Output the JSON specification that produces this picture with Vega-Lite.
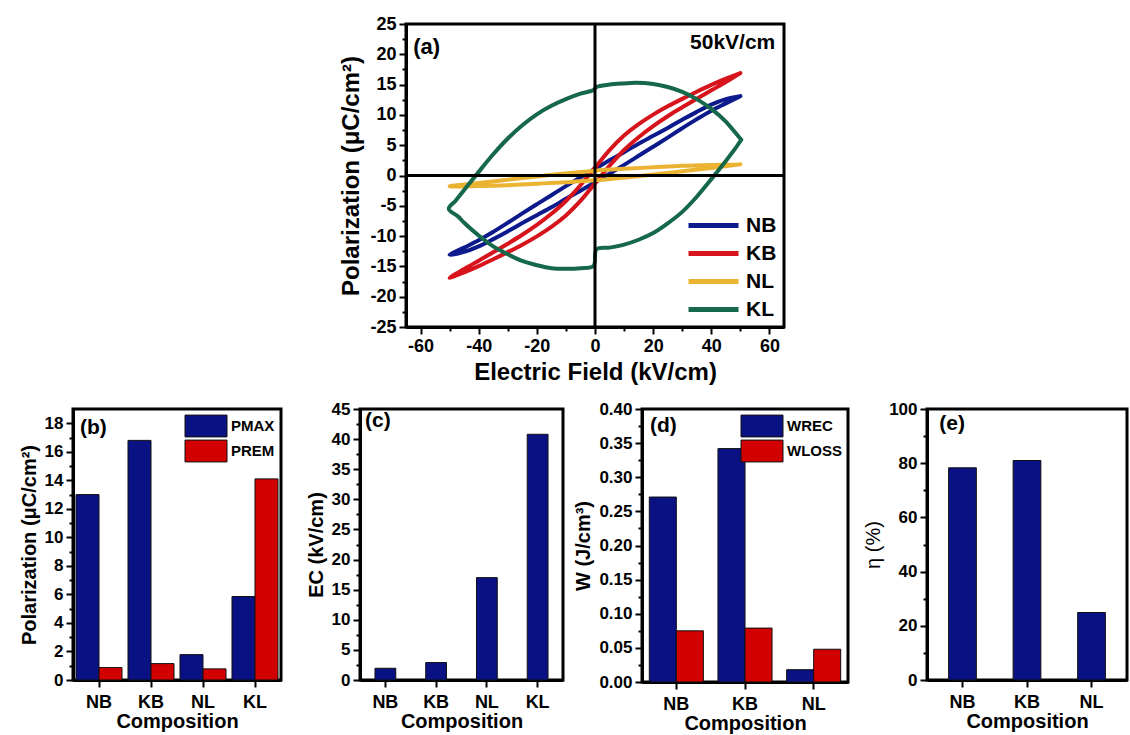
{
  "$schema": "https://vega.github.io/schema/vega-lite/v6.json",
  "background": "white",
  "padding": {"left": 17, "top": 13, "right": 0, "bottom": 0},
  "config": {
    "font": "Liberation Sans",
    "locale": {"number": {"decimal": ".", "thousands": ",", "grouping": [3], "currency": ["$", ""], "minus": "-"}},
    "view": {"stroke": "black", "strokeWidth": 3},
    "axis": {
      "grid": false,
      "labelOverlap": false,
      "tickCount": 200,
      "domainColor": "black",
      "domainWidth": 3,
      "tickColor": "black",
      "tickWidth": 2,
      "labelFont": "Liberation Sans",
      "labelFontWeight": "bold",
      "labelColor": "black",
      "titleFont": "Liberation Sans",
      "titleFontWeight": "bold",
      "titleColor": "black"
    },
    "legend": {
      "labelFont": "Liberation Sans",
      "labelFontWeight": "bold",
      "labelColor": "black"
    }
  },
  "datasets": {
    "loops": [
      {"s": "NB", "i": 0, "E": 50, "P": 13.1}, {"s": "NB", "i": 1, "E": 45, "P": 12.6}, {"s": "NB", "i": 2, "E": 40, "P": 11.7},
      {"s": "NB", "i": 3, "E": 35, "P": 10.5}, {"s": "NB", "i": 4, "E": 30, "P": 9.2}, {"s": "NB", "i": 5, "E": 25, "P": 7.85},
      {"s": "NB", "i": 6, "E": 20, "P": 6.55}, {"s": "NB", "i": 7, "E": 15, "P": 5.25}, {"s": "NB", "i": 8, "E": 10, "P": 3.85},
      {"s": "NB", "i": 9, "E": 5, "P": 2.5}, {"s": "NB", "i": 10, "E": 0, "P": 1.1}, {"s": "NB", "i": 11, "E": -5, "P": -0.3},
      {"s": "NB", "i": 12, "E": -10, "P": -1.75}, {"s": "NB", "i": 13, "E": -15, "P": -3.25}, {"s": "NB", "i": 14, "E": -20, "P": -4.75},
      {"s": "NB", "i": 15, "E": -25, "P": -6.25}, {"s": "NB", "i": 16, "E": -30, "P": -7.8}, {"s": "NB", "i": 17, "E": -35, "P": -9.3},
      {"s": "NB", "i": 18, "E": -40, "P": -10.7}, {"s": "NB", "i": 19, "E": -45, "P": -11.9}, {"s": "NB", "i": 20, "E": -50, "P": -13.1},
      {"s": "NB", "i": 21, "E": -45, "P": -12.6}, {"s": "NB", "i": 22, "E": -40, "P": -11.7}, {"s": "NB", "i": 23, "E": -35, "P": -10.5},
      {"s": "NB", "i": 24, "E": -30, "P": -9.2}, {"s": "NB", "i": 25, "E": -25, "P": -7.85}, {"s": "NB", "i": 26, "E": -20, "P": -6.55},
      {"s": "NB", "i": 27, "E": -15, "P": -5.25}, {"s": "NB", "i": 28, "E": -10, "P": -3.85}, {"s": "NB", "i": 29, "E": -5, "P": -2.5},
      {"s": "NB", "i": 30, "E": 0, "P": -1.1}, {"s": "NB", "i": 31, "E": 5, "P": 0.3}, {"s": "NB", "i": 32, "E": 10, "P": 1.75},
      {"s": "NB", "i": 33, "E": 15, "P": 3.25}, {"s": "NB", "i": 34, "E": 20, "P": 4.75}, {"s": "NB", "i": 35, "E": 25, "P": 6.25},
      {"s": "NB", "i": 36, "E": 30, "P": 7.8}, {"s": "NB", "i": 37, "E": 35, "P": 9.3}, {"s": "NB", "i": 38, "E": 40, "P": 10.7},
      {"s": "NB", "i": 39, "E": 45, "P": 11.9}, {"s": "NB", "i": 40, "E": 50, "P": 13.1},

      {"s": "KB", "i": 0, "E": 50, "P": 16.9}, {"s": "KB", "i": 1, "E": 45, "P": 15.98}, {"s": "KB", "i": 2, "E": 40, "P": 14.95},
      {"s": "KB", "i": 3, "E": 35, "P": 13.83}, {"s": "KB", "i": 4, "E": 30, "P": 12.65}, {"s": "KB", "i": 5, "E": 25, "P": 11.42},
      {"s": "KB", "i": 6, "E": 20, "P": 10.05}, {"s": "KB", "i": 7, "E": 15, "P": 8.48}, {"s": "KB", "i": 8, "E": 10, "P": 6.6},
      {"s": "KB", "i": 9, "E": 5, "P": 4.2}, {"s": "KB", "i": 10, "E": 0, "P": 1.3}, {"s": "KB", "i": 11, "E": -5, "P": -1.6},
      {"s": "KB", "i": 12, "E": -10, "P": -4.2}, {"s": "KB", "i": 13, "E": -15, "P": -6.32}, {"s": "KB", "i": 14, "E": -20, "P": -8.15},
      {"s": "KB", "i": 15, "E": -25, "P": -9.78}, {"s": "KB", "i": 16, "E": -30, "P": -11.25}, {"s": "KB", "i": 17, "E": -35, "P": -12.67},
      {"s": "KB", "i": 18, "E": -40, "P": -14.05}, {"s": "KB", "i": 19, "E": -45, "P": -15.42}, {"s": "KB", "i": 20, "E": -50, "P": -16.9},
      {"s": "KB", "i": 21, "E": -45, "P": -15.98}, {"s": "KB", "i": 22, "E": -40, "P": -14.95}, {"s": "KB", "i": 23, "E": -35, "P": -13.83},
      {"s": "KB", "i": 24, "E": -30, "P": -12.65}, {"s": "KB", "i": 25, "E": -25, "P": -11.42}, {"s": "KB", "i": 26, "E": -20, "P": -10.05},
      {"s": "KB", "i": 27, "E": -15, "P": -8.48}, {"s": "KB", "i": 28, "E": -10, "P": -6.6}, {"s": "KB", "i": 29, "E": -5, "P": -4.2},
      {"s": "KB", "i": 30, "E": 0, "P": -1.3}, {"s": "KB", "i": 31, "E": 5, "P": 1.6}, {"s": "KB", "i": 32, "E": 10, "P": 4.2},
      {"s": "KB", "i": 33, "E": 15, "P": 6.32}, {"s": "KB", "i": 34, "E": 20, "P": 8.15}, {"s": "KB", "i": 35, "E": 25, "P": 9.78},
      {"s": "KB", "i": 36, "E": 30, "P": 11.25}, {"s": "KB", "i": 37, "E": 35, "P": 12.67}, {"s": "KB", "i": 38, "E": 40, "P": 14.05},
      {"s": "KB", "i": 39, "E": 45, "P": 15.42}, {"s": "KB", "i": 40, "E": 50, "P": 16.9},

      {"s": "NL", "i": 0, "E": 50, "P": 1.85}, {"s": "NL", "i": 1, "E": 40, "P": 1.75}, {"s": "NL", "i": 2, "E": 30, "P": 1.6},
      {"s": "NL", "i": 3, "E": 20, "P": 1.35}, {"s": "NL", "i": 4, "E": 10, "P": 1.1}, {"s": "NL", "i": 5, "E": 0, "P": 0.8},
      {"s": "NL", "i": 6, "E": -10, "P": 0.35}, {"s": "NL", "i": 7, "E": -17, "P": 0}, {"s": "NL", "i": 8, "E": -20, "P": -0.15},
      {"s": "NL", "i": 9, "E": -30, "P": -0.7}, {"s": "NL", "i": 10, "E": -40, "P": -1.25}, {"s": "NL", "i": 11, "E": -50, "P": -1.8},
      {"s": "NL", "i": 12, "E": -40, "P": -1.75}, {"s": "NL", "i": 13, "E": -30, "P": -1.6}, {"s": "NL", "i": 14, "E": -20, "P": -1.35},
      {"s": "NL", "i": 15, "E": -10, "P": -1.1}, {"s": "NL", "i": 16, "E": 0, "P": -0.8}, {"s": "NL", "i": 17, "E": 10, "P": -0.35},
      {"s": "NL", "i": 18, "E": 17, "P": 0}, {"s": "NL", "i": 19, "E": 20, "P": 0.15}, {"s": "NL", "i": 20, "E": 30, "P": 0.7},
      {"s": "NL", "i": 21, "E": 40, "P": 1.25}, {"s": "NL", "i": 22, "E": 50, "P": 1.85},

      {"s": "KL", "i": 0, "E": 50.3, "P": 5.9}, {"s": "KL", "i": 1, "E": 47, "P": 7.8}, {"s": "KL", "i": 2, "E": 45, "P": 8.9},
      {"s": "KL", "i": 3, "E": 40, "P": 11.0}, {"s": "KL", "i": 4, "E": 35, "P": 12.6}, {"s": "KL", "i": 5, "E": 30, "P": 13.8},
      {"s": "KL", "i": 6, "E": 25, "P": 14.6}, {"s": "KL", "i": 7, "E": 20, "P": 15.1}, {"s": "KL", "i": 8, "E": 14, "P": 15.3},
      {"s": "KL", "i": 9, "E": 10, "P": 15.2}, {"s": "KL", "i": 10, "E": 5, "P": 15.0}, {"s": "KL", "i": 11, "E": 0.5, "P": 14.6},
      {"s": "KL", "i": 12, "E": -0.5, "P": 14.1}, {"s": "KL", "i": 13, "E": -5, "P": 13.5}, {"s": "KL", "i": 14, "E": -10, "P": 12.6},
      {"s": "KL", "i": 15, "E": -15, "P": 11.5}, {"s": "KL", "i": 16, "E": -20, "P": 10.1}, {"s": "KL", "i": 17, "E": -25, "P": 8.3},
      {"s": "KL", "i": 18, "E": -30, "P": 6.1}, {"s": "KL", "i": 19, "E": -35, "P": 3.5}, {"s": "KL", "i": 20, "E": -40, "P": 0.6},
      {"s": "KL", "i": 21, "E": -45, "P": -2.4}, {"s": "KL", "i": 22, "E": -48, "P": -4.2}, {"s": "KL", "i": 23, "E": -50.3, "P": -5.5},
      {"s": "KL", "i": 24, "E": -47, "P": -6.8}, {"s": "KL", "i": 25, "E": -45, "P": -7.8}, {"s": "KL", "i": 26, "E": -40, "P": -9.9},
      {"s": "KL", "i": 27, "E": -35, "P": -11.7}, {"s": "KL", "i": 28, "E": -30, "P": -13.0}, {"s": "KL", "i": 29, "E": -25, "P": -14.1},
      {"s": "KL", "i": 30, "E": -20, "P": -14.8}, {"s": "KL", "i": 31, "E": -15, "P": -15.3}, {"s": "KL", "i": 32, "E": -10, "P": -15.4},
      {"s": "KL", "i": 33, "E": -5, "P": -15.3}, {"s": "KL", "i": 34, "E": -0.5, "P": -14.9}, {"s": "KL", "i": 35, "E": 0.5, "P": -12.2},
      {"s": "KL", "i": 36, "E": 5, "P": -11.9}, {"s": "KL", "i": 37, "E": 10, "P": -11.4}, {"s": "KL", "i": 38, "E": 15, "P": -10.6},
      {"s": "KL", "i": 39, "E": 20, "P": -9.5}, {"s": "KL", "i": 40, "E": 25, "P": -7.9}, {"s": "KL", "i": 41, "E": 30, "P": -6.0},
      {"s": "KL", "i": 42, "E": 35, "P": -3.5}, {"s": "KL", "i": 43, "E": 40, "P": -0.6}, {"s": "KL", "i": 44, "E": 45, "P": 2.4},
      {"s": "KL", "i": 45, "E": 48, "P": 4.3}, {"s": "KL", "i": 46, "E": 50.3, "P": 5.9}
    ],
    "pol": [
      {"c": "NB", "k": "PMAX", "v": 13.0}, {"c": "NB", "k": "PREM", "v": 0.87},
      {"c": "KB", "k": "PMAX", "v": 16.8}, {"c": "KB", "k": "PREM", "v": 1.15},
      {"c": "NL", "k": "PMAX", "v": 1.78}, {"c": "NL", "k": "PREM", "v": 0.78},
      {"c": "KL", "k": "PMAX", "v": 5.85}, {"c": "KL", "k": "PREM", "v": 14.1}
    ],
    "ec": [
      {"c": "NB", "v": 1.95}, {"c": "KB", "v": 2.9}, {"c": "NL", "v": 17.0}, {"c": "KL", "v": 40.8}
    ],
    "energy": [
      {"c": "NB", "k": "WREC", "v": 0.271}, {"c": "NB", "k": "WLOSS", "v": 0.075},
      {"c": "KB", "k": "WREC", "v": 0.342}, {"c": "KB", "k": "WLOSS", "v": 0.079},
      {"c": "NL", "k": "WREC", "v": 0.018}, {"c": "NL", "k": "WLOSS", "v": 0.048}
    ],
    "eff": [
      {"c": "NB", "v": 78.3}, {"c": "KB", "v": 81.0}, {"c": "NL", "v": 24.9}
    ]
  },
  "spacing": 12,
  "resolve": {"scale": {"color": "independent", "xOffset": "independent"}, "legend": {"color": "independent"}},
  "vconcat": [
    {
      "bounds": "flush",
      "spacing": 33,
      "resolve": {"scale": {"color": "independent", "xOffset": "independent"}, "legend": {"color": "independent"}},
      "hconcat": [
        {
          "width": 300,
          "height": 10,
          "view": {"stroke": null},
          "data": {"values": [{}]},
          "mark": {"type": "point", "opacity": 0},
          "encoding": {}
        },
        {
          "width": 378,
          "height": 303,
          "layer": [
            {
              "data": {"name": "loops"},
              "mark": {"type": "line", "strokeWidth": 4, "interpolate": "catmull-rom", "strokeCap": "round", "strokeJoin": "round"},
              "encoding": {
                "x": {
                  "field": "E", "type": "quantitative",
                  "scale": {"domain": [-65, 65], "nice": false, "zero": false},
                  "axis": {
                    "title": "Electric Field (kV/cm)",
                    "values": [-60, -50, -40, -30, -20, -10, 0, 10, 20, 30, 40, 50, 60],
                    "tickCount": 200,
                    "labelExpr": "datum.value % 20 === 0 ? '' + datum.value : ''",
                    "labelOverlap": false,
                    "tickSize": {"condition": {"test": "datum.value % 20 === 0", "value": 7}, "value": 4},
                    "labelFontSize": 18,
                    "labelPadding": 3,
                    "titleFontSize": 24,
                    "titlePadding": 5
                  }
                },
                "y": {
                  "field": "P", "type": "quantitative",
                  "scale": {"domain": [-25, 25], "nice": false, "zero": false},
                  "axis": {
                    "title": "Polarization (μC/cm²)",
                    "values": [-25, -22.5, -20, -17.5, -15, -12.5, -10, -7.5, -5, -2.5, 0, 2.5, 5, 7.5, 10, 12.5, 15, 17.5, 20, 22.5, 25],
                    "tickCount": 200,
                    "labelExpr": "datum.value % 5 === 0 ? '' + datum.value : ''",
                    "labelOverlap": false,
                    "tickSize": {"condition": {"test": "datum.value % 5 === 0", "value": 7}, "value": 4},
                    "labelFontSize": 18,
                    "labelPadding": 3,
                    "titleFontSize": 24,
                    "titlePadding": 6
                  }
                },
                "color": {
                  "field": "s", "type": "nominal",
                  "scale": {"domain": ["NB", "KB", "NL", "KL"], "range": ["#0c1a8c", "#d7141c", "#eab331", "#16684a"]},
                  "legend": {
                    "title": null,
                    "orient": "bottom-right",
                    "symbolType": "M-2.5,0H2.5",
                    "symbolStrokeWidth": 5,
                    "symbolSize": 400,
                    "labelFontSize": 21,
                    "labelOffset": 20,
                    "rowPadding": 5,
                    "offset": 7
                  }
                },
                "order": {"field": "i", "type": "quantitative"}
              }
            },
            {
              "data": {"values": [{}]},
              "mark": {"type": "rule", "strokeWidth": 3, "color": "black"},
              "encoding": {"x": {"datum": 0}}
            },
            {
              "data": {"values": [{}]},
              "mark": {"type": "rule", "strokeWidth": 3, "color": "black"},
              "encoding": {"y": {"datum": 0}}
            },
            {
              "data": {"values": [{"t": "(a)"}]},
              "mark": {"type": "text", "align": "left", "baseline": "middle", "fontSize": 22, "fontWeight": "bold", "color": "black"},
              "encoding": {"x": {"datum": -62.5}, "y": {"datum": 21.2}, "text": {"field": "t"}}
            },
            {
              "data": {"values": [{"t": "50kV/cm"}]},
              "mark": {"type": "text", "align": "right", "baseline": "middle", "fontSize": 21, "fontWeight": "bold", "color": "black"},
              "encoding": {"x": {"datum": 62}, "y": {"datum": 21.8}, "text": {"field": "t"}}
            }
          ]
        }
      ]
    },
    {
      "bounds": "flush",
      "spacing": 79,
      "resolve": {"scale": {"color": "independent", "xOffset": "independent"}, "legend": {"color": "independent"}},
      "hconcat": [
        {
          "width": 208,
          "height": 271,
          "layer": [
            {
              "data": {"name": "pol"},
              "mark": {"type": "bar", "stroke": "#111111", "strokeWidth": 1},
              "encoding": {
                "x": {
                  "field": "c", "type": "nominal", "sort": ["NB", "KB", "NL", "KL"],
                  "scale": {"paddingInner": 0, "paddingOuter": 0},
                  "axis": {"title": "Composition", "labelAngle": 0, "labelFontSize": 18, "titleFontSize": 20, "tickSize": 7, "labelPadding": 6, "titlePadding": 0}
                },
                "xOffset": {"field": "k", "type": "nominal", "sort": ["PMAX", "PREM"], "scale": {"paddingInner": 0, "paddingOuter": 0.13}},
                "y": {
                  "field": "v", "type": "quantitative",
                  "scale": {"domain": [0, 19], "nice": false},
                  "axis": {
                    "title": "Polarization (μC/cm²)",
                    "values": [0, 1, 2, 3, 4, 5, 6, 7, 8, 9, 10, 11, 12, 13, 14, 15, 16, 17, 18],
                    "tickCount": 200,
                    "labelExpr": "datum.value % 2 === 0 ? '' + datum.value : ''",
                    "labelOverlap": false,
                    "tickSize": {"condition": {"test": "datum.value % 2 === 0", "value": 7}, "value": 4},
                    "labelFontSize": 17, "titleFontSize": 20, "labelPadding": 3, "titlePadding": 5
                  }
                },
                "color": {
                  "field": "k", "type": "nominal",
                  "scale": {"domain": ["PMAX", "PREM"], "range": ["#0a1283", "#d20000"]},
                  "legend": {
                    "title": null, "orient": "top-right", "offset": 6,
                    "symbolType": "M-2,-1.04H2V1.04H-2Z", "symbolSize": 441,
                    "symbolStrokeColor": "#111111", "symbolStrokeWidth": 1, "symbolOpacity": 1,
                    "labelFontSize": 15, "labelOffset": 14, "rowPadding": -1
                  }
                }
              }
            },
            {
              "data": {"values": [{"t": "(b)"}]},
              "mark": {"type": "text", "align": "left", "baseline": "middle", "fontSize": 21, "fontWeight": "bold", "color": "black", "dx": 7},
              "encoding": {"x": {"datum": "NB", "bandPosition": 0}, "y": {"datum": 17.7}, "text": {"field": "t"}}
            }
          ]
        },
        {
          "width": 203,
          "height": 271,
          "layer": [
            {
              "data": {"name": "ec"},
              "mark": {"type": "bar", "stroke": "#111111", "strokeWidth": 1, "color": "#0a1283", "width": {"band": 0.41}},
              "encoding": {
                "x": {
                  "field": "c", "type": "nominal", "sort": ["NB", "KB", "NL", "KL"],
                  "scale": {"paddingInner": 0, "paddingOuter": 0},
                  "axis": {"title": "Composition", "labelAngle": 0, "labelFontSize": 18, "titleFontSize": 20, "tickSize": 7, "labelPadding": 6, "titlePadding": 0}
                },
                "y": {
                  "field": "v", "type": "quantitative",
                  "scale": {"domain": [0, 45], "nice": false},
                  "axis": {
                    "title": "EC (kV/cm)",
                    "values": [0, 2.5, 5, 7.5, 10, 12.5, 15, 17.5, 20, 22.5, 25, 27.5, 30, 32.5, 35, 37.5, 40, 42.5, 45],
                    "tickCount": 200,
                    "labelExpr": "datum.value % 5 === 0 ? '' + datum.value : ''",
                    "labelOverlap": false,
                    "tickSize": {"condition": {"test": "datum.value % 5 === 0", "value": 7}, "value": 4},
                    "labelFontSize": 17, "titleFontSize": 20, "labelPadding": 3, "titlePadding": 5
                  }
                }
              }
            },
            {
              "data": {"values": [{"t": "(c)"}]},
              "mark": {"type": "text", "align": "left", "baseline": "middle", "fontSize": 21, "fontWeight": "bold", "color": "black", "dx": 5},
              "encoding": {"x": {"datum": "NB", "bandPosition": 0}, "y": {"datum": 43}, "text": {"field": "t"}}
            }
          ]
        },
        {
          "width": 206,
          "height": 273,
          "layer": [
            {
              "data": {"name": "energy"},
              "mark": {"type": "bar", "stroke": "#111111", "strokeWidth": 1},
              "encoding": {
                "x": {
                  "field": "c", "type": "nominal", "sort": ["NB", "KB", "NL"],
                  "scale": {"paddingInner": 0, "paddingOuter": 0},
                  "axis": {"title": "Composition", "labelAngle": 0, "labelFontSize": 18, "titleFontSize": 20, "tickSize": 7, "labelPadding": 6, "titlePadding": 0}
                },
                "xOffset": {"field": "k", "type": "nominal", "sort": ["WREC", "WLOSS"], "scale": {"paddingInner": 0, "paddingOuter": 0.27}},
                "y": {
                  "field": "v", "type": "quantitative",
                  "scale": {"domain": [0, 0.4], "nice": false},
                  "axis": {
                    "title": "W (J/cm³)",
                    "values": [0, 0.025, 0.05, 0.075, 0.1, 0.125, 0.15, 0.175, 0.2, 0.225, 0.25, 0.275, 0.3, 0.325, 0.35, 0.375, 0.4],
                    "tickCount": 200,
                    "labelExpr": "round(datum.value * 1000) % 50 === 0 ? format(datum.value, '.2f') : ''",
                    "labelOverlap": false,
                    "tickSize": {"condition": {"test": "round(datum.value * 1000) % 50 === 0", "value": 7}, "value": 4},
                    "labelFontSize": 17, "titleFontSize": 20, "labelPadding": 3, "titlePadding": 5
                  }
                },
                "color": {
                  "field": "k", "type": "nominal",
                  "scale": {"domain": ["WREC", "WLOSS"], "range": ["#0a1283", "#d20000"]},
                  "legend": {
                    "title": null, "orient": "top-right", "offset": 6,
                    "symbolType": "M-2,-1.04H2V1.04H-2Z", "symbolSize": 441,
                    "symbolStrokeColor": "#111111", "symbolStrokeWidth": 1, "symbolOpacity": 1,
                    "labelFontSize": 15, "labelOffset": 14, "rowPadding": -1
                  }
                }
              }
            },
            {
              "data": {"values": [{"t": "(d)"}]},
              "mark": {"type": "text", "align": "left", "baseline": "middle", "fontSize": 21, "fontWeight": "bold", "color": "black", "dx": 8},
              "encoding": {"x": {"datum": "NB", "bandPosition": 0}, "y": {"datum": 0.375}, "text": {"field": "t"}}
            }
          ]
        },
        {
          "width": 200,
          "height": 271,
          "layer": [
            {
              "data": {"name": "eff"},
              "mark": {"type": "bar", "stroke": "#111111", "strokeWidth": 1, "color": "#0a1283", "width": {"band": 0.43}},
              "encoding": {
                "x": {
                  "field": "c", "type": "nominal", "sort": ["NB", "KB", "NL"],
                  "scale": {"paddingInner": 0, "paddingOuter": 0.05},
                  "axis": {"title": "Composition", "labelAngle": 0, "labelFontSize": 18, "titleFontSize": 20, "tickSize": 7, "labelPadding": 6, "titlePadding": 0}
                },
                "y": {
                  "field": "v", "type": "quantitative",
                  "scale": {"domain": [0, 100], "nice": false},
                  "axis": {
                    "title": "η (%)",
                    "values": [0, 10, 20, 30, 40, 50, 60, 70, 80, 90, 100],
                    "tickCount": 200,
                    "labelExpr": "datum.value % 20 === 0 ? '' + datum.value : ''",
                    "labelOverlap": false,
                    "tickSize": {"condition": {"test": "datum.value % 20 === 0", "value": 7}, "value": 4},
                    "labelFontSize": 17, "titleFontSize": 20, "titleFontWeight": "normal", "labelPadding": 3, "titlePadding": 5
                  }
                }
              }
            },
            {
              "data": {"values": [{"t": "(e)"}]},
              "mark": {"type": "text", "align": "left", "baseline": "middle", "fontSize": 21, "fontWeight": "bold", "color": "black", "dx": 9},
              "encoding": {"x": {"datum": "NB", "bandPosition": 0}, "y": {"datum": 94.5}, "text": {"field": "t"}}
            }
          ]
        }
      ]
    }
  ]
}
